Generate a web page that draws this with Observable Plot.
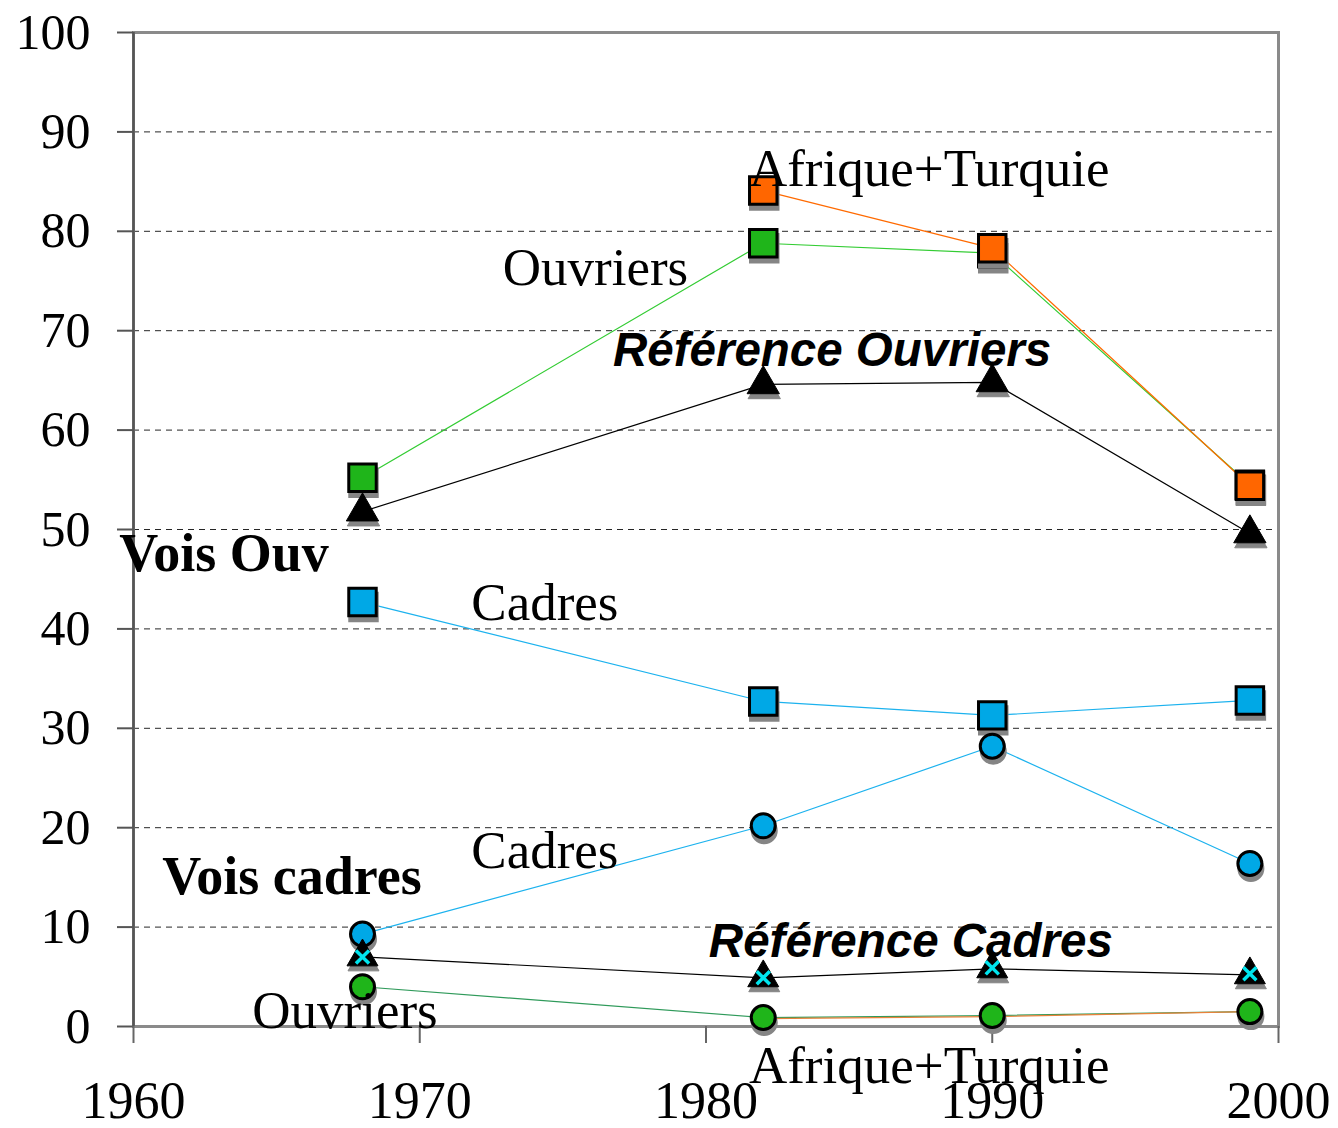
<!DOCTYPE html>
<html>
<head>
<meta charset="utf-8">
<script src="https://cdn.jsdelivr.net/npm/d3@7"></script>
<script src="https://cdn.jsdelivr.net/npm/@observablehq/plot@0.6"></script>
<style>
  html, body { margin: 0; padding: 0; background: #fff; }
  #chart svg { display: block; }
</style>
</head>
<body>
<div id="chart"></div>
<script>
// ---- data ----
const years = [1968, 1982, 1990, 1999];
const afriqueOuv  = [null, 84.1, 78.3, 54.4];
const ouvriersOuv = [55.2, 78.8, 77.8, 54.5];
const refOuv      = [51.8, 64.6, 64.8, 49.6];
const cadresOuv   = [42.7, 32.7, 31.3, 32.8];
const cadresCad   = [9.3, 20.2, 28.2, 16.4];
const refCad      = [7.0, 4.9, 5.8, 5.2];
const afriqueCadX = [7.0, 4.9, 5.9, 5.3];
const ouvriersCad = [4.0, 0.9, 1.1, 1.5];
const afriqueCad  = [null, 0.8, 1.0, 1.5];

const yTicks = [0, 10, 20, 30, 40, 50, 60, 70, 80, 90, 100];
const xTicks = [1960, 1970, 1980, 1990, 2000];

const labelText = ["Afrique+Turquie", "Ouvriers", "Référence Ouvriers", "Vois Ouv", "Cadres",
                   "Cadres", "Vois cadres", "Référence Cadres", "Ouvriers", "Afrique+Turquie"];
const labelX = [1981.5, 1972.9, 1976.75, 1959.5, 1971.8, 1971.8, 1961.0, 1980.1, 1964.15, 1981.5];
const labelY = [86.3, 76.3, 68.0, 47.6, 42.6, 17.7, 15.1, 8.5, 1.6, -4.0];
const labelKind = ["serif", "serif", "ref", "bold", "serif", "serif", "bold", "ref", "serif", "serif"];

// ---- helpers ----
const rows = (vals) => years.map((x, i) => ({x, y: vals[i]})).filter(d => d.y != null);
const labels = labelText.map((t, i) => ({t, x: labelX[i], y: labelY[i], k: labelKind[i]}));

const SERIF = "'Liberation Serif', 'Times New Roman', Times, serif";
const SANS = "'Liberation Sans', Arial, Helvetica, sans-serif";
const SHADOW = "#858585";

function markerSeries(vals, symbol, fill, r, sw) {
  const d = rows(vals);
  return [
    Plot.dot(d, {x: "x", y: "y", symbol, r, fill: SHADOW, stroke: SHADOW, strokeWidth: sw, dx: 1, dy: 5}),
    Plot.dot(d, {x: "x", y: "y", symbol, r, fill, stroke: "#000", strokeWidth: sw})
  ];
}
const line = (vals, stroke) => Plot.line(rows(vals), {x: "x", y: "y", stroke, strokeWidth: 1.2});

const chart = Plot.plot({
  width: 1338,
  height: 1128,
  marginTop: 32,
  marginRight: 60,
  marginBottom: 102,
  marginLeft: 133,
  style: {fontFamily: SERIF, background: "#fff", overflow: "visible"},
  x: {domain: [1960, 2000]},
  y: {domain: [0, 100]},
  marks: [
    Plot.gridY(yTicks.filter(v => v > 0 && v < 100), {stroke: "#000", strokeOpacity: 0.85, strokeWidth: 1, strokeDasharray: "6,5"}),
    Plot.frame({stroke: "#8a8a8a", strokeWidth: 3}),
    Plot.ruleX([1960], {stroke: "#555", strokeWidth: 2.5}),
    Plot.axisY(yTicks, {tickSize: 16, tickPadding: 27, fontSize: 50, stroke: "#555", strokeWidth: 2, fill: "#000", label: null, tickFormat: d => String(d)}),
    Plot.axisX(xTicks, {tickSize: 17, tickPadding: 38, fontSize: 52, stroke: "#666", strokeWidth: 2, fill: "#000", label: null, tickFormat: d => String(d)}),

    line(ouvriersOuv, "#33cc33"),
    line(afriqueOuv, "#ff6a00"),
    line(refOuv, "#000"),
    line(cadresOuv, "#1cb2ee"),
    line(cadresCad, "#1cb2ee"),
    line(refCad, "#000"),
    line(ouvriersCad, "#2f9a5a"),
    line(afriqueCad, "#e8823a"),

    ...markerSeries(ouvriersOuv, "square", "#1fb51a", 15.5, 3),
    ...markerSeries(afriqueOuv, "square", "#ff6600", 15.5, 3),
    ...markerSeries(refOuv, "triangle", "#000", 12, 1),
    ...markerSeries(cadresOuv, "square", "#00a8e6", 15.5, 3),
    ...markerSeries(cadresCad, "circle", "#00a8e6", 12, 3),
    ...markerSeries(refCad, "triangle", "#000", 11.5, 1),
    Plot.dot(rows(afriqueCadX), {x: "x", y: "y", symbol: "times", r: 6, stroke: "#00e5ee", strokeWidth: 3.5}),
    ...markerSeries(ouvriersCad, "circle", "#1fb51a", 12, 3),

    Plot.text(labels.filter(d => d.k === "serif"), {x: "x", y: "y", text: "t", textAnchor: "start", fontSize: 53, fontFamily: SERIF, fill: "#000"}),
    Plot.text(labels.filter(d => d.k === "bold"), {x: "x", y: "y", text: "t", textAnchor: "start", fontSize: 54, fontFamily: SERIF, fontWeight: "bold", fill: "#000"}),
    Plot.text(labels.filter(d => d.k === "ref"), {x: "x", y: "y", text: "t", textAnchor: "start", fontSize: 47.5, fontFamily: SANS, fontWeight: "bold", fontStyle: "italic", fill: "#000"})
  ]
});
document.getElementById("chart").appendChild(chart);
</script>
</body>
</html>
